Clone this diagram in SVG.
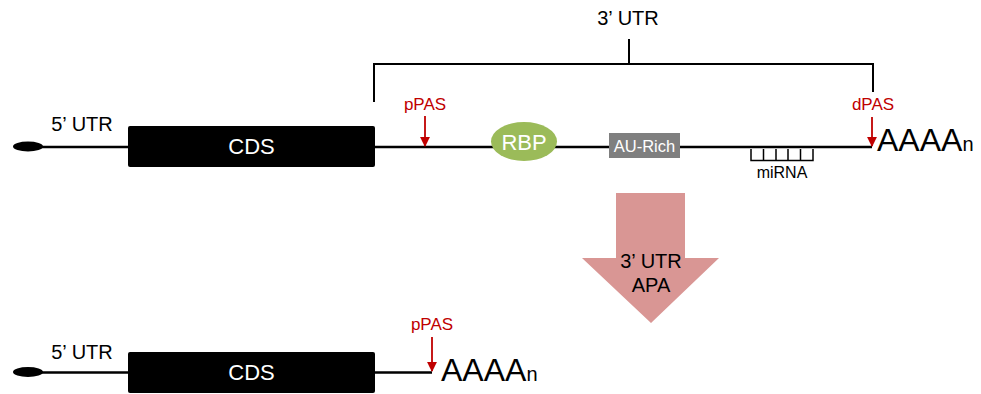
<svg xmlns="http://www.w3.org/2000/svg" width="981" height="394" viewBox="0 0 981 394">
<defs>
<style>
.t{font-family:"Liberation Sans",Arial,sans-serif;}
.blk{fill:#000;}
.wht{fill:#fff;}
.red{fill:#C00000;}
.ln{stroke:#000;stroke-width:2.5;fill:none;}
.br{stroke:#000;stroke-width:2;fill:none;}
.ra{stroke:#C00000;stroke-width:1.8;fill:none;}
</style>
<marker id="ah" viewBox="0 0 10 10" refX="9" refY="5" markerWidth="5.5" markerHeight="5.5" orient="auto" markerUnits="strokeWidth">
<path d="M0,0 L10,5 L0,10 z" fill="#C00000"/>
</marker>
</defs>
<rect width="981" height="394" fill="#fff"/>

<g id="connectors">
<path class="ln" d="M40,147 H128 M375,147 H872"/>
<path class="ln" d="M40,372.5 H128 M375,372.5 H432"/>
<path class="br" d="M374,102 V64 H873 V92 M629,39 V64"/>
<line class="ra" x1="425" y1="116" x2="425" y2="146" marker-end="url(#ah)"/>
<line class="ra" x1="872" y1="117" x2="872" y2="146" marker-end="url(#ah)"/>
<line class="ra" x1="432" y1="337" x2="432" y2="371" marker-end="url(#ah)"/>
</g>

<g id="utr3-label">
<text class="t blk" x="628" y="25" font-size="20" text-anchor="middle">3’ UTR</text>
</g>

<g id="cap-top"><ellipse cx="28" cy="146.5" rx="15" ry="5" fill="#000"/></g>
<g id="utr5-top"><text class="t blk" x="82" y="131" font-size="20" text-anchor="middle">5’ UTR</text></g>
<g id="cds-top">
<rect x="128" y="126" width="247" height="41" rx="2" fill="#000"/>
<text class="t wht" x="251.5" y="154" font-size="22" text-anchor="middle">CDS</text>
</g>
<g id="ppas-top"><text class="t red" x="425" y="110" font-size="17" text-anchor="middle">pPAS</text></g>
<g id="rbp">
<ellipse cx="524" cy="141.5" rx="33" ry="19.5" fill="#9BBB59"/>
<text class="t wht" x="524" y="150" font-size="22" text-anchor="middle">RBP</text>
</g>
<g id="au-rich">
<rect x="609" y="133" width="71" height="25" fill="#7F7F7F"/>
<text class="t wht" x="644.5" y="151.5" font-size="16.5" text-anchor="middle">AU-Rich</text>
</g>
<g id="mirna">
<path d="M751,149 V160.5 H813 V149 M763.5,149 V160.5 M776,149 V160.5 M788,149 V160.5 M800.5,149 V160.5" stroke="#000" stroke-width="1.5" fill="none"/>
<text class="t blk" x="782" y="178" font-size="16" text-anchor="middle">miRNA</text>
</g>
<g id="dpas"><text class="t red" x="873" y="110" font-size="17" text-anchor="middle">dPAS</text></g>
<g id="polya-top"><text class="t blk" x="877" y="151" font-size="32">AAAA<tspan font-size="20">n</tspan></text></g>

<g id="apa-arrow">
<polygon points="616,193 685,193 685,258 719,258 651,323 582,258 616,258" fill="#D99694"/>
<text class="t blk" x="651" y="268" font-size="20" text-anchor="middle">3’ UTR</text>
<text class="t blk" x="651" y="292" font-size="20" text-anchor="middle">APA</text>
</g>

<g id="cap-bottom"><ellipse cx="28" cy="372" rx="15" ry="5" fill="#000"/></g>
<g id="utr5-bottom"><text class="t blk" x="82" y="359" font-size="20" text-anchor="middle">5’ UTR</text></g>
<g id="cds-bottom">
<rect x="128" y="352" width="247" height="41" rx="2" fill="#000"/>
<text class="t wht" x="251.5" y="380" font-size="22" text-anchor="middle">CDS</text>
</g>
<g id="ppas-bottom"><text class="t red" x="432" y="330" font-size="17" text-anchor="middle">pPAS</text></g>
<g id="polya-bottom"><text class="t blk" x="441" y="381" font-size="32">AAAA<tspan font-size="20">n</tspan></text></g>
</svg>
